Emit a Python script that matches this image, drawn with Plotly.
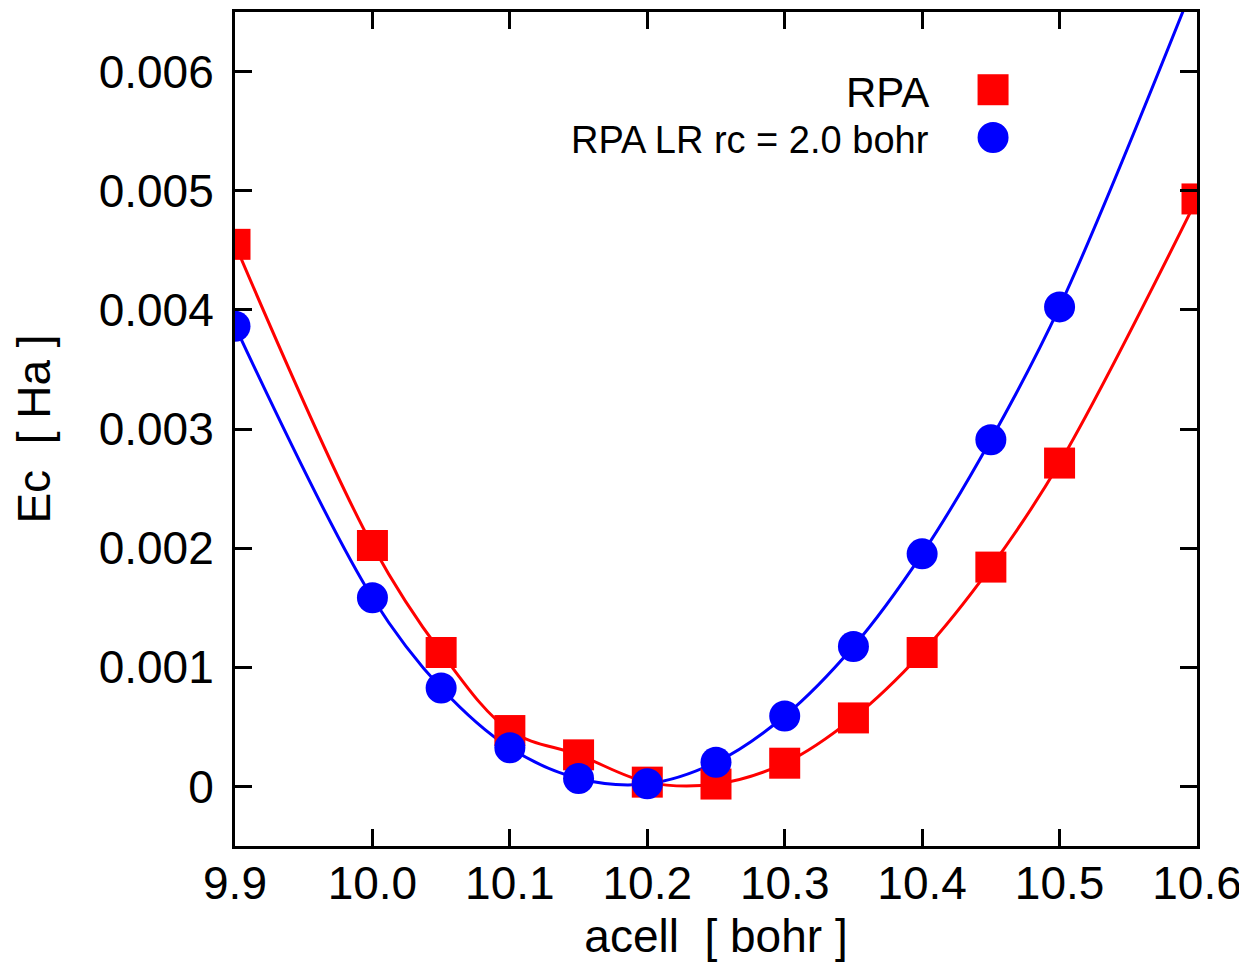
import plotly.graph_objects as go

# ---- data ----
acell = [9.9, 10.0, 10.05, 10.1, 10.15, 10.2, 10.25, 10.3, 10.35, 10.4, 10.45, 10.5, 10.6]
rpa = [0.00455, 0.002022, 0.001124, 0.000469, 0.000265, 0.000036, 0.000020,
       0.000195, 0.000575, 0.001124, 0.001841, 0.002714, 0.004931]
acell_lr = [9.9, 10.0, 10.05, 10.1, 10.15, 10.2, 10.25, 10.3, 10.35, 10.4, 10.45, 10.5, 10.6]
rpa_lr = [0.003863, 0.001584, 0.000826, 0.000324, 0.000067, 0.000022, 0.000203,
          0.000591, 0.001174, 0.001952, 0.002910, 0.004025, 0.0068]

x_ticks = [9.9, 10.0, 10.1, 10.2, 10.3, 10.4, 10.5, 10.6]
x_ticktext = ["9.9", "10.0", "10.1", "10.2", "10.3", "10.4", "10.5", "10.6"]
y_ticks = [0, 0.001, 0.002, 0.003, 0.004, 0.005, 0.006]
y_ticktext = ["0", "0.001", "0.002", "0.003", "0.004", "0.005", "0.006"]

series_names = ["RPA", "RPA LR rc = 2.0 bohr"]

RED = "#ff0000"
BLUE = "#0000ff"
FONT = "Liberation Sans, Arial, sans-serif"

fig = go.Figure()

# smoothed curves through the data
fig.add_trace(go.Scatter(x=acell, y=rpa, mode="lines", line=dict(color=RED, width=3, shape="spline", smoothing=1.0),
                         showlegend=False, hoverinfo="skip"))
fig.add_trace(go.Scatter(x=acell_lr, y=rpa_lr, mode="lines", line=dict(color=BLUE, width=3, shape="spline", smoothing=1.0),
                         showlegend=False, hoverinfo="skip"))
# markers
fig.add_trace(go.Scatter(x=acell, y=rpa, mode="markers", name=series_names[0],
                         marker=dict(symbol="square", size=31, color=RED, line=dict(width=0)),
                         showlegend=False, cliponaxis=True))
fig.add_trace(go.Scatter(x=acell_lr, y=rpa_lr, mode="markers", name=series_names[1],
                         marker=dict(symbol="circle", size=31, color=BLUE, line=dict(width=0)),
                         showlegend=False, cliponaxis=True))

axis_common = dict(
    showgrid=False, zeroline=False, showline=True, linecolor="black", linewidth=3,
    mirror="ticks", ticks="inside", ticklen=17, tickwidth=3, tickcolor="black",
    tickfont=dict(family=FONT, size=46, color="black"),
)

fig.update_xaxes(range=[9.9, 10.6], tickvals=x_ticks, ticktext=x_ticktext,
                 title=dict(text="acell  [ bohr ]", font=dict(family=FONT, size=46, color="black"), standoff=16),
                 ticklabelstandoff=-5,
                 **axis_common)
fig.update_yaxes(range=[-0.0005, 0.0065], tickvals=y_ticks, ticktext=y_ticktext,
                 title=dict(text="Ec  [ Ha ]", font=dict(family=FONT, size=46, color="black"), standoff=38),
                 ticklabelstandoff=9,
                 **axis_common)

# custom legend (text on the left, symbol on the right, as in the reference)
fig.add_annotation(xref="paper", yref="paper", x=0.7234, y=0.903, xanchor="right", yanchor="middle",
                   text=series_names[0], showarrow=False, font=dict(family=FONT, size=42, color="black"))
fig.add_annotation(xref="paper", yref="paper", x=0.7234, y=0.8465, xanchor="right", yanchor="middle",
                   text=series_names[1], showarrow=False, font=dict(family=FONT, size=38, color="black"))
fig.add_shape(type="rect", xref="paper", yref="paper", xsizemode="pixel", ysizemode="pixel",
              xanchor=0.788, yanchor=0.9068, x0=-15.5, x1=15.5, y0=-15.5, y1=15.5,
              fillcolor=RED, line=dict(width=0))
fig.add_shape(type="circle", xref="paper", yref="paper", xsizemode="pixel", ysizemode="pixel",
              xanchor=0.788, yanchor=0.8495, x0=-15.5, x1=15.5, y0=-15.5, y1=15.5,
              fillcolor=BLUE, line=dict(width=0))

# the page body adds an 8px margin, so the figure is 8px smaller than the window
fig.update_layout(
    width=1239, height=954,
    margin=dict(l=227, r=50, t=1, b=116),
    plot_bgcolor="white", paper_bgcolor="white",
    font=dict(family=FONT, color="black"),
)

fig.write_html("out.html")
